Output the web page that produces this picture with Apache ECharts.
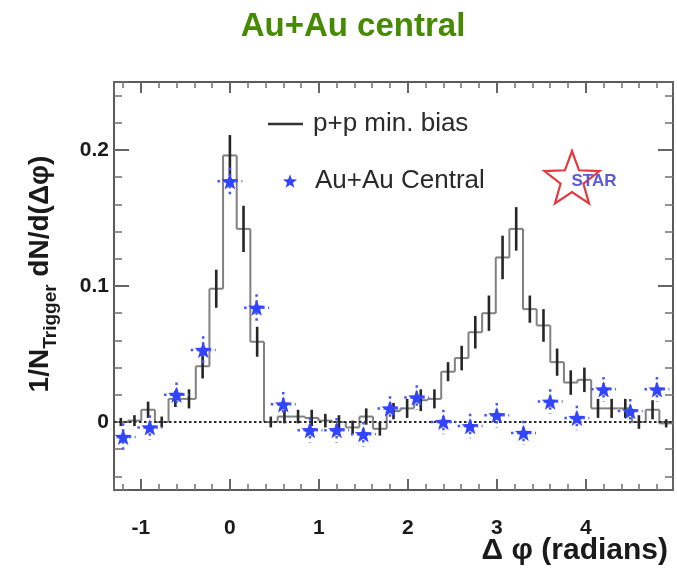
<!DOCTYPE html>
<html>
<head>
<meta charset="utf-8">
<script src="https://cdn.jsdelivr.net/npm/echarts@6/dist/echarts.min.js"></script>
<style>
  html, body { margin: 0; padding: 0; background: #ffffff; }
  #chart { width: 677px; height: 570px; }
</style>
</head>
<body>
<div id="chart"></div>
<script>
// Axis ranges (delta-phi spans one full turn, 41 histogram bins)
const xRange = [-1.3026, 4.9806];
const yRange = [-0.05, 0.25];

// p+p minimum-bias histogram: bin k is centred at k * ppBinWidth
const ppBinWidth = 2 * Math.PI / 41;
const ppFirstBin = -8;
const ppValues = [
  0.000, 0.001, 0.009, 0.000, 0.017, 0.017, 0.041, 0.098,
  0.196, 0.142, 0.059, 0.000, 0.004, 0.004, 0.003, 0.001,
  0.000, -0.004, 0.004, -0.005, 0.008, 0.010, 0.016, 0.017,
  0.037, 0.047, 0.066, 0.080, 0.121, 0.142, 0.083, 0.071,
  0.044, 0.029, 0.031, 0.010, 0.010, 0.010, 0.000, 0.009,
  -0.001
];
const ppErrors = [
  0.003, 0.004, 0.006, 0.004, 0.006, 0.007, 0.009, 0.014,
  0.015, 0.017, 0.011, 0.004, 0.005, 0.005, 0.006, 0.005,
  0.005, 0.005, 0.006, 0.005, 0.006, 0.007, 0.008, 0.007,
  0.007, 0.009, 0.012, 0.013, 0.016, 0.016, 0.010, 0.012,
  0.010, 0.009, 0.009, 0.007, 0.007, 0.007, 0.005, 0.007,
  0.003
];

// Au+Au central points
const auPhi = [-1.2, -0.9, -0.6, -0.3, 0.0, 0.3, 0.6, 0.9, 1.2, 1.5, 1.8,
               2.1, 2.4, 2.7, 3.0, 3.3, 3.6, 3.9, 4.2, 4.5, 4.8];
const auValues = [-0.011, -0.004, 0.020, 0.053, 0.177, 0.084, 0.013, -0.006,
                  -0.006, -0.009, 0.010, 0.018, 0.000, -0.003, 0.005, -0.008,
                  0.015, 0.003, 0.024, 0.008, 0.024];
const auErrors = [0.010, 0.009, 0.009, 0.010, 0.010, 0.010, 0.009, 0.009,
                  0.009, 0.009, 0.009, 0.009, 0.009, 0.009, 0.009, 0.009,
                  0.009, 0.009, 0.009, 0.009, 0.009];
const auPhiHalfWidth = 0.14;

// Axis tick labels
const xTickLabels = ['-1', '0', '1', '2', '3', '4'];
const yTickLabels = ['0', '0.1', '0.2'];

const FONT = '"Liberation Sans", Arial, Helvetica, sans-serif';
const STAR_PATH = 'path://M0,-10 L2.47,-3.4 L9.511,-3.09 L4.0,1.3 L5.878,8.09 L0,4.2 L-5.878,8.09 L-4.0,1.3 L-9.511,-3.09 L-2.47,-3.4 Z';

const ppData = ppValues.map((v, i) => [(ppFirstBin + i) * ppBinWidth, v, ppErrors[i]]);
const auData = auPhi.map((p, i) => [p, auValues[i], auErrors[i]]);

function starOutline(cx, cy, R, r) {
  const pts = [];
  for (let i = 0; i < 10; i++) {
    const a = -Math.PI / 2 + i * Math.PI / 5;
    const rad = i % 2 === 0 ? R : r;
    pts.push([cx + rad * Math.cos(a), cy + rad * Math.sin(a)]);
  }
  return pts;
}

// Vertical axis title, laid out piece by piece so "Trigger" sits as a subscript
function yTitleGroup(cx, cy) {
  const ctx = document.createElement('canvas').getContext('2d');
  const parts = [
    { text: '1/N', size: 28, dy: 0 },
    { text: 'Trigger', size: 19, dy: 11 },
    { text: ' dN/d(\u0394\u03c6)', size: 28, dy: 0 }
  ];
  let total = 0;
  parts.forEach(p => {
    ctx.font = 'bold ' + p.size + 'px ' + FONT;
    p.w = ctx.measureText(p.text).width;
    total += p.w;
  });
  let x = -total / 2;
  const children = parts.map(p => {
    const el = {
      type: 'text', x: x, y: p.dy,
      style: { text: p.text, align: 'left', verticalAlign: 'middle',
               fontFamily: FONT, fontWeight: 'bold', fontSize: p.size, fill: '#1a1a1a' }
    };
    x += p.w;
    return el;
  });
  return { type: 'group', x: cx, y: cy, rotation: Math.PI / 2, children: children };
}

const frameLine = { show: true, onZero: false, lineStyle: { color: '#5a5a5a', width: 2 } };
const majorTick = { show: true, inside: true, length: 11, lineStyle: { color: '#666', width: 2 } };
const minorTickX = { show: true, splitNumber: 5, length: 6, lineStyle: { color: '#777', width: 1.6 } };
const majorTickY = { show: true, inside: true, length: 15, lineStyle: { color: '#666', width: 2 } };
const minorTickY = { show: true, splitNumber: 5, length: 8, lineStyle: { color: '#777', width: 1.6 } };
const tickFont = { fontFamily: FONT, fontWeight: 'bold', fontSize: 21, color: '#1a1a1a' };

const chart = echarts.init(document.getElementById('chart'), null, { renderer: 'canvas' });

chart.setOption({
  backgroundColor: '#ffffff',
  animation: false,
  title: {
    text: 'Au+Au central',
    left: 353,
    top: 10,
    textAlign: 'center',
    padding: 0,
    textStyle: { fontFamily: FONT, fontWeight: 'bold', fontSize: 33, color: '#468a02' }
  },
  grid: { left: 114, top: 82, width: 559, height: 408, outerBoundsMode: 'none', containLabel: false },
  legend: [
    {
      data: ['p+p min. bias'],
      left: 268, top: 111, padding: 0,
      orient: 'vertical',
      selectedMode: false,
      icon: 'rect',
      itemWidth: 35, itemHeight: 2.5,
      itemStyle: { color: '#333333' },
      textStyle: { fontFamily: FONT, fontSize: 26, color: '#2a2a2a', lineHeight: 26, padding: [0, 0, 0, 5] }
    },
    {
      data: ['Au+Au Central'],
      left: 283, top: 168, padding: 0,
      orient: 'vertical',
      selectedMode: false,
      icon: STAR_PATH,
      itemWidth: 14, itemHeight: 14,
      itemStyle: { color: '#3344ff' },
      textStyle: { fontFamily: FONT, fontSize: 26, color: '#2a2a2a', lineHeight: 26, padding: [0, 0, 0, 13] }
    }
  ],
  xAxis: [
    {
      type: 'value', position: 'bottom', min: xRange[0], max: xRange[1], splitNumber: 5,
      axisLine: frameLine, axisTick: majorTick, minorTick: minorTickX, splitLine: { show: false },
      axisLabel: Object.assign({
        margin: 28, showMinLabel: false, showMaxLabel: false,
        formatter: v => xTickLabels.find(t => Number(t) === Math.round(v)) || ''
      }, tickFont)
    },
    {
      type: 'value', position: 'top', min: xRange[0], max: xRange[1], splitNumber: 5,
      axisLine: frameLine, axisTick: majorTick, minorTick: minorTickX, splitLine: { show: false },
      axisLabel: { show: false }
    }
  ],
  yAxis: [
    {
      type: 'value', position: 'left', min: yRange[0], max: yRange[1], splitNumber: 3,
      axisLine: frameLine, axisTick: majorTickY, minorTick: minorTickY, splitLine: { show: false },
      axisLabel: Object.assign({
        margin: 5, showMinLabel: false, showMaxLabel: false,
        formatter: v => yTickLabels.find(t => Math.abs(Number(t) - v) < 1e-6) || ''
      }, tickFont)
    },
    {
      type: 'value', position: 'right', min: yRange[0], max: yRange[1], splitNumber: 3,
      axisLine: frameLine, axisTick: majorTickY, minorTick: minorTickY, splitLine: { show: false },
      axisLabel: { show: false }
    }
  ],
  graphic: [
    yTitleGroup(40, 274),
    {
      type: 'text', x: 668, y: 551,
      style: {
        text: '\u0394 \u03c6 (radians)',
        align: 'right', verticalAlign: 'middle',
        fontFamily: FONT, fontWeight: 'bold', fontSize: 30, fill: '#1a1a1a'
      }
    },
    {
      type: 'polygon', z: 10,
      shape: { points: starOutline(572, 180, 29, 12) },
      style: { fill: 'none', stroke: '#e4393f', lineWidth: 2.2 }
    },
    {
      type: 'text', x: 594, y: 181, z: 11,
      style: {
        text: 'STAR', align: 'center', verticalAlign: 'middle',
        fontFamily: FONT, fontWeight: 'bold', fontSize: 17, fill: '#5a5ad8'
      }
    }
  ],
  series: [
    {
      name: 'p+p min. bias',
      type: 'custom',
      xAxisIndex: 0, yAxisIndex: 0,
      clip: true,
      z: 2,
      itemStyle: { color: '#333333' },
      encode: { x: 0, y: 1 },
      data: ppData,
      renderItem: function (params, api) {
        const i = params.dataIndex;
        const c = api.value(0), v = api.value(1), e = api.value(2);
        const half = ppBinWidth / 2;
        const l = api.coord([c - half, v]);
        const r = api.coord([c + half, v]);
        const children = [
          { type: 'line', shape: { x1: l[0], y1: l[1], x2: r[0], y2: r[1] },
            style: { stroke: '#808080', lineWidth: 2 } }
        ];
        if (i < ppValues.length - 1) {
          const n = api.coord([c + half, ppValues[i + 1]]);
          children.push({ type: 'line', shape: { x1: r[0], y1: r[1], x2: n[0], y2: n[1] },
            style: { stroke: '#808080', lineWidth: 2 } });
        }
        const top = api.coord([c, v + e]);
        const bot = api.coord([c, v - e]);
        children.push({ type: 'line', shape: { x1: top[0], y1: top[1], x2: bot[0], y2: bot[1] },
          style: { stroke: '#262626', lineWidth: 2.6 } });
        return { type: 'group', children: children };
      }
    },
    {
      name: 'zero',
      type: 'line',
      z: 3,
      symbol: 'none',
      silent: true,
      data: [[xRange[0], 0], [xRange[1], 0]],
      lineStyle: { color: '#2a2a2a', width: 2, type: [2.5, 2.5] }
    },
    {
      name: 'Au+Au errors',
      type: 'custom',
      z: 4,
      clip: true,
      encode: { x: 0, y: 1 },
      data: auData,
      renderItem: function (params, api) {
        const x = api.value(0), y = api.value(1), e = api.value(2);
        const t = api.coord([x, y + e]);
        const b = api.coord([x, y - e]);
        const l = api.coord([x - auPhiHalfWidth, y]);
        const r = api.coord([x + auPhiHalfWidth, y]);
        const st = { stroke: '#4455ff', lineWidth: 2.5, lineDash: [2.5, 3.5] };
        return { type: 'group', children: [
          { type: 'line', shape: { x1: t[0], y1: t[1], x2: b[0], y2: b[1] }, style: st },
          { type: 'line', shape: { x1: l[0], y1: l[1], x2: r[0], y2: r[1] }, style: st }
        ] };
      }
    },
    {
      name: 'Au+Au Central',
      type: 'scatter',
      z: 5,
      symbol: STAR_PATH,
      symbolSize: 17,
      symbolKeepAspect: true,
      encode: { x: 0, y: 1 },
      itemStyle: { color: '#3344ff', opacity: 1 },
      data: auData
    }
  ]
});
</script>
</body>
</html>
